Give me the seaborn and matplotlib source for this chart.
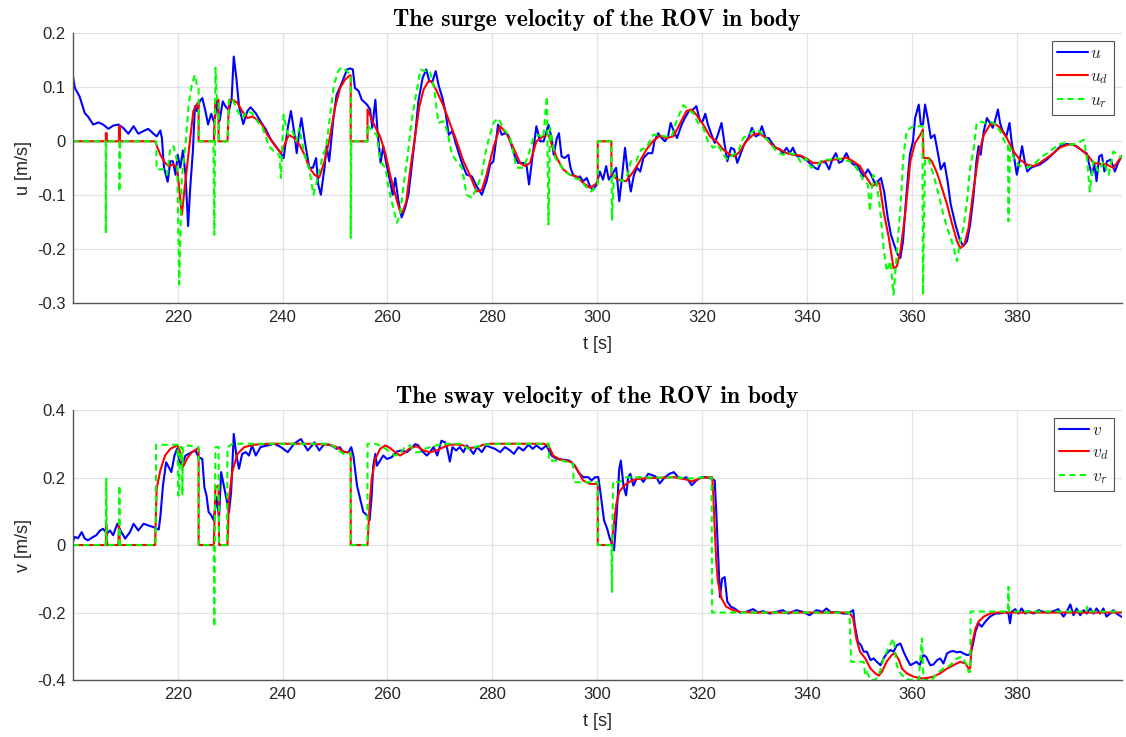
import matplotlib
matplotlib.use("Agg")
import matplotlib.pyplot as plt
import seaborn as sns

# ---------------- surge velocity (top) ----------------
t_u = [200.0, 200.4, 201.3, 202.3, 202.9, 203.9, 204.9, 205.8, 206.8, 207.7, 208.7, 209.6, 210.6, 211.6, 212.5,
       213.5, 214.4, 215.4, 216.0, 216.7, 217.0, 217.4, 218.1, 218.6, 219.1, 219.6, 220.0, 220.5, 221.0, 221.5,
       222.0, 222.4, 222.9, 223.3, 223.7, 224.2, 224.7, 225.3, 225.8, 226.4, 227.0, 227.5, 228.0, 228.6, 229.1,
       229.8, 230.3, 230.7, 231.2, 231.7, 232.5, 233.3, 233.9, 234.9, 235.8, 236.8, 237.8, 238.7, 239.7, 240.2,
       241.0, 241.6, 242.2, 242.7, 243.2, 243.6, 244.3, 245.1, 245.8, 246.4, 246.8, 247.3, 248.0, 248.4, 248.9,
       249.7, 250.3, 251.3, 252.3, 252.9, 253.4, 253.8, 254.5, 255.1, 256.1, 256.7, 257.1, 257.7, 258.1, 258.7,
       259.2, 259.7, 260.5, 261.0, 261.5, 262.1, 262.7, 263.4, 264.0, 264.6, 265.3, 265.9, 266.7, 267.4, 268.0,
       268.6, 269.2, 269.8, 270.5, 271.1, 271.7, 272.4, 273.0, 273.7, 274.3, 275.1, 276.1, 277.0, 278.0, 278.9,
       279.6, 280.2, 281.1, 281.8, 282.4, 283.0, 283.7, 284.3, 284.9, 285.9, 286.5, 287.0, 287.7, 288.4, 289.1,
       289.8, 290.7, 291.3, 291.7, 292.3, 292.7, 293.2, 293.8, 294.5, 294.9, 295.4, 296.1, 296.7, 297.3, 298.0,
       298.6, 299.2, 299.9, 300.5, 301.1, 301.7, 302.2, 302.8, 303.6, 304.2, 304.7, 305.3, 305.8, 306.4, 307.0,
       307.6, 308.2, 308.8, 309.7, 310.5, 310.9, 311.6, 312.3, 312.9, 313.5, 314.0, 314.6, 315.2, 316.1, 316.7,
       317.5, 318.3, 318.9, 319.6, 320.1, 320.6, 321.1, 321.8, 322.4, 323.0, 323.7, 324.2, 324.8, 325.5, 326.1,
       326.7, 327.4, 328.0, 328.8, 329.5, 330.2, 330.8, 331.4, 332.1, 332.7, 333.3, 334.0, 334.8, 335.4, 336.1,
       336.7, 337.3, 338.0, 338.9, 339.8, 340.8, 341.5, 342.1, 342.7, 343.6, 344.2, 344.8, 345.5, 346.1, 346.7,
       347.5, 348.1, 348.8, 349.5, 350.2, 350.8, 351.6, 352.2, 352.9, 353.5, 354.1, 354.7, 355.4, 356.0, 356.6,
       357.3, 357.8, 358.3, 358.9, 359.6, 360.2, 360.6, 361.3, 361.7, 362.1, 362.5, 363.0, 363.6, 364.3, 364.9,
       365.5, 366.2, 366.8, 367.4, 368.3, 369.1, 369.8, 370.5, 371.1, 371.7, 372.3, 372.7, 373.1, 373.7, 374.3,
       374.9, 375.4, 375.9, 376.4, 376.8, 377.3, 378.0, 378.6, 379.0, 379.5, 380.0, 380.5, 381.0, 381.5, 382.0,
       382.7, 383.5, 384.4, 385.7, 387.0, 388.3, 389.5, 390.8, 391.7, 392.7, 393.3, 393.8, 394.3, 394.8, 395.2,
       395.7, 396.2, 396.7, 397.2, 397.9, 398.7, 399.3, 400.0]
u = [0.123, 0.099, 0.083, 0.052, 0.046, 0.031, 0.035, 0.031, 0.023, 0.029, 0.031, 0.025, 0.014, 0.028, 0.014,
     0.019, 0.023, 0.014, 0.009, 0.020, 0.006, -0.049, -0.075, -0.037, -0.037, -0.062, -0.025, -0.049, -0.017, -0.062,
     -0.157, -0.086, -0.019, 0.065, 0.056, 0.074, 0.080, 0.056, 0.031, 0.051, 0.034, 0.074, 0.038, 0.074, 0.065,
     0.057, 0.080, 0.157, 0.117, 0.065, 0.032, 0.056, 0.063, 0.052, 0.037, 0.022, 0.003, -0.009, -0.022, -0.031,
     0.025, 0.056, 0.019, -0.022, 0.019, 0.043, -0.003, -0.049, -0.049, -0.031, -0.080, -0.099, -0.049, -0.009, -0.037,
     0.043, 0.086, 0.108, 0.133, 0.135, 0.133, 0.099, 0.093, 0.077, 0.068, 0.059, 0.025, 0.077, 0.019, -0.040,
     -0.009, -0.037, -0.074, -0.099, -0.068, -0.111, -0.141, -0.123, -0.099, -0.049, 0.012, 0.074, 0.117, 0.133, 0.111,
     0.111, 0.130, 0.102, 0.080, 0.052, 0.012, 0.019, -0.003, -0.025, -0.043, -0.062, -0.065, -0.083, -0.099, -0.074,
     -0.043, -0.037, 0.031, 0.012, 0.015, 0.012, -0.009, -0.028, -0.040, -0.040, -0.043, -0.080, -0.025, 0.028, 0.000,
     0.000, 0.031, 0.006, -0.025, 0.006, 0.015, -0.028, -0.031, -0.025, -0.049, -0.062, -0.068, -0.065, -0.074, -0.068,
     -0.083, -0.090, -0.080, -0.056, -0.071, -0.046, -0.071, -0.062, -0.049, -0.111, -0.068, -0.012, -0.056, -0.093, -0.062,
     -0.049, -0.056, -0.031, -0.022, -0.022, 0.000, 0.015, 0.006, 0.000, 0.009, 0.034, 0.019, 0.006, 0.031, 0.043,
     0.056, 0.059, 0.065, 0.037, 0.037, 0.051, 0.031, 0.012, -0.003, 0.012, 0.034, 0.000, -0.037, -0.012, -0.015,
     -0.040, -0.022, -0.006, 0.006, 0.025, 0.009, 0.012, 0.028, 0.006, 0.006, -0.003, -0.012, -0.015, -0.022, -0.012,
     -0.022, -0.012, -0.027, -0.028, -0.034, -0.043, -0.049, -0.052, -0.037, -0.040, -0.052, -0.034, -0.022, -0.040, -0.037,
     -0.022, -0.034, -0.043, -0.043, -0.056, -0.065, -0.052, -0.062, -0.077, -0.074, -0.068, -0.093, -0.142, -0.173, -0.191,
     -0.210, -0.216, -0.185, -0.105, -0.025, 0.000, 0.043, 0.068, 0.031, 0.031, 0.068, 0.043, 0.006, 0.012, -0.019,
     -0.052, -0.040, -0.074, -0.117, -0.154, -0.182, -0.194, -0.185, -0.154, -0.105, -0.037, -0.009, -0.025, 0.019, 0.043,
     0.034, 0.025, 0.040, 0.059, 0.034, 0.019, 0.009, 0.034, 0.000, -0.031, -0.062, -0.037, -0.009, -0.037, -0.056,
     -0.049, -0.046, -0.043, -0.034, -0.022, -0.009, -0.005, -0.006, -0.012, -0.019, -0.022, -0.043, -0.062, -0.043, -0.074,
     -0.028, -0.025, -0.056, -0.037, -0.034, -0.056, -0.040, -0.028]

t_ud = [200.0, 206.3, 206.3, 206.5, 206.5, 208.8, 208.8, 209.0, 209.0, 215.7, 216.7, 217.6, 218.3, 219.2, 219.9,
        220.8, 221.2, 221.9, 222.4, 223.0, 223.8, 224.0, 224.0, 226.9, 227.2, 227.8, 227.8, 229.5, 229.8, 230.5,
        231.4, 232.3, 233.3, 234.2, 235.2, 236.1, 237.1, 238.4, 239.7, 240.4, 241.2, 242.2, 243.2, 244.2, 245.1,
        246.1, 247.0, 248.0, 249.0, 250.0, 251.0, 251.9, 252.8, 253.0, 253.0, 256.2, 256.2, 257.3, 258.6, 259.6,
        260.5, 261.5, 262.4, 262.9, 263.6, 264.3, 265.3, 266.1, 266.9, 267.8, 268.4, 269.4, 270.7, 271.9, 273.2,
        274.5, 275.7, 277.0, 278.0, 278.9, 280.2, 281.5, 282.7, 284.0, 285.3, 286.2, 287.2, 288.4, 289.7, 290.7,
        291.3, 292.3, 293.5, 294.8, 296.1, 297.3, 298.6, 299.6, 300.1, 300.1, 302.7, 302.7, 303.9, 305.5, 306.9,
        308.1, 309.4, 310.6, 311.9, 313.2, 314.5, 315.7, 317.0, 318.0, 318.9, 320.2, 321.5, 322.7, 324.0, 325.3,
        326.2, 327.2, 328.4, 329.7, 330.9, 332.2, 333.5, 334.8, 336.1, 337.3, 338.6, 339.8, 341.1, 342.4, 343.7,
        345.0, 346.3, 347.5, 348.8, 350.1, 351.4, 352.4, 353.8, 354.6, 355.6, 356.5, 357.1, 357.8, 358.7, 359.7,
        360.6, 361.6, 362.1, 362.2, 363.2, 363.8, 364.8, 365.7, 366.7, 367.6, 368.6, 369.2, 370.0, 370.8, 371.7,
        372.7, 373.7, 374.9, 375.9, 376.8, 378.1, 379.4, 380.6, 381.9, 383.2, 384.4, 385.7, 387.0, 388.3, 390.2,
        391.4, 392.7, 393.7, 394.6, 395.9, 397.1, 398.4, 400.0]
u_d = [0.0, 0.0, 0.015, 0.015, 0.0, 0.0, 0.028, 0.028, 0.0, 0.0, -0.025, -0.040, -0.046, -0.043, -0.049,
       -0.136, -0.099, -0.037, 0.006, 0.056, 0.071, 0.071, 0.0, 0.0, 0.077, 0.077, 0.0, 0.0, 0.074, 0.077,
       0.071, 0.056, 0.043, 0.046, 0.040, 0.031, 0.012, -0.006, -0.022, -0.006, 0.012, 0.006, -0.006, -0.025, -0.049,
       -0.062, -0.067, -0.037, 0.006, 0.062, 0.099, 0.114, 0.122, 0.122, 0.0, 0.0, 0.059, 0.034, 0.009, -0.022,
       -0.062, -0.099, -0.130, -0.131, -0.111, -0.056, 0.012, 0.065, 0.096, 0.111, 0.111, 0.093, 0.065, 0.034, 0.000,
       -0.037, -0.062, -0.093, -0.090, -0.062, -0.012, 0.028, 0.015, -0.012, -0.040, -0.046, -0.040, 0.000, 0.009, 0.012,
       -0.006, -0.031, -0.052, -0.062, -0.065, -0.077, -0.086, -0.080, -0.075, 0.0, 0.0, -0.062, -0.071, -0.074, -0.056,
       -0.037, -0.015, 0.000, 0.010, 0.006, 0.009, 0.031, 0.056, 0.059, 0.049, 0.031, 0.009, 0.000, -0.015, -0.025,
       -0.028, -0.019, 0.000, 0.012, 0.015, 0.006, -0.009, -0.015, -0.022, -0.025, -0.026, -0.031, -0.040, -0.040, -0.036,
       -0.034, -0.033, -0.030, -0.037, -0.046, -0.068, -0.083, -0.077, -0.130, -0.179, -0.235, -0.232, -0.204, -0.136, -0.037,
       -0.003, 0.012, 0.022, -0.031, -0.031, -0.037, -0.059, -0.086, -0.117, -0.151, -0.185, -0.198, -0.191, -0.160, -0.093,
       -0.025, 0.012, 0.031, 0.032, 0.025, 0.006, -0.019, -0.034, -0.043, -0.046, -0.040, -0.031, -0.022, -0.011, -0.005,
       -0.009, -0.019, -0.028, -0.040, -0.042, -0.043, -0.049, -0.028]

t_ur = [200.0, 206.3, 206.3, 206.4, 208.9, 208.9, 209.0, 215.9, 216.0, 217.3, 218.0, 218.6, 219.2, 219.9, 220.3,
        220.8, 221.5, 222.1, 222.7, 223.3, 223.7, 224.0, 224.0, 226.8, 227.0, 227.2, 227.5, 227.8, 227.9, 229.5,
        229.8, 230.4, 231.4, 232.3, 233.3, 234.2, 235.2, 236.2, 237.4, 238.4, 239.4, 239.7, 240.2, 241.0, 241.9,
        242.6, 243.2, 244.2, 245.1, 245.9, 246.7, 247.7, 248.3, 249.0, 249.8, 250.6, 251.3, 252.3, 252.8, 253.0,
        253.0, 253.1, 256.2, 256.2, 257.0, 258.0, 258.6, 259.6, 260.2, 261.1, 261.8, 262.4, 263.0, 263.8, 264.4,
        265.0, 265.7, 266.3, 267.2, 268.1, 268.9, 269.7, 270.7, 271.4, 272.3, 273.2, 274.2, 275.1, 276.1, 277.0,
        278.0, 278.6, 279.2, 280.2, 281.1, 282.1, 283.4, 284.6, 285.9, 286.9, 287.8, 288.8, 289.7, 290.4, 290.7,
        291.0, 292.0, 292.9, 293.8, 294.8, 295.7, 296.7, 298.0, 298.9, 299.9, 300.1, 300.1, 302.7, 302.8, 303.2,
        304.8, 305.8, 306.4, 307.4, 308.4, 309.4, 310.0, 310.7, 311.6, 312.9, 314.2, 315.1, 316.4, 317.3, 318.3,
        319.2, 320.2, 321.1, 322.1, 323.0, 324.0, 324.9, 325.9, 326.9, 327.8, 328.8, 329.7, 330.6, 331.9, 332.9,
        334.2, 335.4, 336.7, 338.0, 338.9, 339.8, 340.8, 342.1, 343.0, 344.3, 345.6, 346.9, 348.1, 349.4, 350.7,
        351.6, 352.0, 352.6, 353.2, 353.9, 354.6, 355.2, 355.9, 356.5, 357.1, 357.8, 358.4, 359.0, 359.7, 360.6,
        361.4, 362.0, 362.1, 362.5, 363.2, 364.1, 365.1, 366.0, 366.7, 367.6, 368.6, 369.2, 369.8, 370.5, 371.1,
        371.7, 372.3, 373.0, 373.9, 374.9, 375.9, 376.8, 377.8, 378.3, 378.4, 378.7, 379.7, 380.6, 381.9, 383.2,
        384.8, 386.3, 387.9, 389.2, 390.5, 391.7, 392.8, 393.4, 393.9, 394.6, 395.6, 396.5, 397.5, 398.4, 399.4,
        400.0]
u_r = [0.0, 0.0, -0.170, 0.0, 0.0, -0.093, 0.0, 0.0, -0.052, -0.052, -0.062, -0.012, -0.009, -0.037, -0.265,
       -0.068, -0.006, 0.068, 0.105, 0.123, 0.102, 0.100, 0.0, 0.0, -0.173, 0.136, 0.074, 0.074, 0.0, 0.0,
       0.077, 0.080, 0.056, 0.043, 0.056, 0.052, 0.037, 0.025, -0.009, -0.019, -0.025, -0.068, 0.049, 0.012, 0.019,
       0.000, 0.025, -0.025, -0.052, -0.099, -0.068, -0.025, -0.012, 0.043, 0.105, 0.130, 0.137, 0.130, 0.124, 0.124,
       -0.179, 0.0, 0.0, 0.031, 0.019, 0.012, -0.037, -0.049, -0.086, -0.123, -0.151, -0.136, -0.086, -0.031, 0.022,
       0.062, 0.099, 0.133, 0.130, 0.130, 0.099, 0.034, 0.037, 0.019, -0.025, -0.037, -0.049, -0.099, -0.105, -0.086,
       -0.062, -0.025, 0.000, 0.034, 0.043, 0.025, 0.006, -0.049, -0.049, -0.025, 0.006, 0.012, 0.006, 0.083, -0.154,
       0.025, -0.031, -0.043, -0.056, -0.062, -0.068, -0.071, -0.086, -0.093, -0.080, -0.080, 0.0, 0.0, -0.145, -0.062,
       -0.074, -0.062, -0.037, -0.037, -0.015, -0.012, 0.000, 0.012, 0.012, 0.009, 0.009, 0.037, 0.067, 0.059, 0.052,
       0.034, 0.025, 0.000, -0.012, -0.006, -0.025, -0.034, -0.025, -0.019, 0.006, 0.012, 0.019, 0.022, 0.009, -0.003,
       -0.019, -0.025, -0.022, -0.025, -0.040, -0.031, -0.049, -0.043, -0.034, -0.034, -0.031, -0.034, -0.037, -0.049, -0.071,
       -0.080, -0.130, -0.062, -0.074, -0.123, -0.198, -0.241, -0.222, -0.284, -0.210, -0.123, -0.025, 0.019, 0.025, 0.028,
       0.028, 0.028, -0.284, -0.031, -0.034, -0.062, -0.099, -0.136, -0.160, -0.185, -0.222, -0.185, -0.160, -0.111, -0.049,
       -0.019, 0.031, 0.037, 0.034, 0.037, 0.031, 0.019, -0.003, -0.003, -0.148, -0.012, -0.037, -0.046, -0.049, -0.043,
       -0.028, -0.019, -0.006, -0.003, -0.006, -0.003, 0.003, -0.034, -0.093, -0.037, -0.056, -0.037, -0.062, -0.019, -0.025,
       -0.031]

# ---------------- sway velocity (bottom) ----------------
t_v = [200.0, 200.4, 201.0, 201.7, 202.3, 202.9, 203.9, 204.5, 205.2, 205.8, 206.5, 207.1, 207.7, 208.5, 209.1,
       210.0, 210.9, 211.6, 212.5, 213.5, 214.4, 215.4, 216.4, 216.7, 217.2, 217.8, 218.3, 218.8, 219.4, 219.9,
       220.3, 220.8, 221.5, 222.1, 222.7, 223.4, 224.0, 224.7, 225.1, 225.5, 225.9, 226.4, 226.9, 227.4, 227.9,
       228.3, 228.8, 229.3, 229.8, 230.2, 230.7, 231.2, 231.7, 232.3, 233.0, 233.6, 234.2, 234.9, 235.8, 237.1,
       238.4, 239.7, 241.0, 242.2, 243.5, 244.8, 246.1, 247.0, 248.0, 249.3, 250.3, 250.9, 251.6, 252.6, 253.1,
       253.5, 254.2, 254.8, 255.4, 256.1, 256.6, 257.0, 257.3, 257.7, 258.0, 258.6, 259.2, 259.9, 260.8, 261.8,
       262.7, 263.7, 264.6, 265.3, 265.9, 266.5, 267.5, 268.1, 268.8, 269.5, 270.3, 271.0, 271.4, 271.9, 272.4,
       273.1, 273.8, 274.5, 275.1, 275.7, 276.4, 277.1, 278.0, 278.8, 279.6, 280.5, 281.5, 282.4, 283.4, 284.1,
       285.0, 285.9, 286.9, 287.7, 288.4, 289.4, 290.3, 291.3, 292.3, 293.5, 294.7, 295.7, 296.4, 297.3, 298.3,
       298.9, 299.6, 300.2, 300.6, 301.3, 301.9, 302.4, 302.7, 303.2, 303.7, 304.2, 304.5, 305.0, 305.5, 305.9,
       306.3, 306.9, 307.5, 308.1, 308.8, 309.7, 310.7, 311.3, 311.9, 312.9, 313.8, 314.6, 315.4, 316.4, 317.0,
       318.0, 318.9, 319.9, 320.8, 321.7, 322.4, 322.7, 323.0, 323.4, 323.8, 324.3, 324.8, 325.5, 326.2, 327.2,
       328.4, 329.7, 330.7, 331.6, 332.9, 334.2, 335.4, 336.4, 338.0, 339.2, 340.5, 341.8, 343.0, 343.7, 344.6,
       345.6, 346.9, 347.8, 348.8, 349.1, 349.7, 350.3, 350.8, 351.4, 352.1, 352.7, 353.3, 354.0, 354.6, 355.2,
       355.9, 356.5, 357.1, 357.8, 358.4, 359.0, 359.7, 360.3, 360.9, 361.5, 361.9, 362.2, 362.7, 363.5, 364.1,
       364.8, 365.4, 366.0, 366.7, 367.3, 367.9, 368.6, 369.2, 369.8, 370.5, 371.1, 371.6, 372.1, 372.7, 373.3,
       374.0, 374.9, 375.9, 376.8, 377.8, 378.4, 378.7, 379.0, 379.7, 380.3, 380.9, 381.6, 382.2, 383.2, 384.1,
       385.1, 386.0, 387.0, 387.9, 388.9, 389.5, 390.2, 390.8, 391.4, 392.1, 392.7, 393.3, 394.0, 394.6, 395.2,
       395.9, 396.5, 397.1, 397.8, 398.4, 399.0, 400.0]
v = [0.009, 0.024, 0.020, 0.038, 0.019, 0.014, 0.024, 0.029, 0.043, 0.048, 0.034, 0.043, 0.029, 0.063, 0.043,
     0.019, 0.038, 0.063, 0.043, 0.063, 0.058, 0.053, 0.046, 0.083, 0.176, 0.245, 0.231, 0.216, 0.265, 0.285,
     0.250, 0.235, 0.265, 0.270, 0.275, 0.280, 0.260, 0.255, 0.171, 0.147, 0.098, 0.088, 0.073, 0.142, 0.083,
     0.216, 0.176, 0.137, 0.098, 0.157, 0.329, 0.265, 0.226, 0.270, 0.275, 0.265, 0.295, 0.265, 0.290, 0.295,
     0.300, 0.290, 0.275, 0.300, 0.314, 0.280, 0.304, 0.280, 0.300, 0.295, 0.285, 0.290, 0.275, 0.275, 0.290,
     0.265, 0.176, 0.137, 0.098, 0.088, 0.073, 0.147, 0.235, 0.270, 0.235, 0.250, 0.265, 0.255, 0.260, 0.277,
     0.280, 0.275, 0.287, 0.299, 0.295, 0.280, 0.265, 0.275, 0.290, 0.265, 0.309, 0.304, 0.285, 0.247, 0.290,
     0.280, 0.290, 0.275, 0.295, 0.285, 0.270, 0.290, 0.275, 0.295, 0.290, 0.285, 0.275, 0.290, 0.280, 0.270,
     0.290, 0.280, 0.297, 0.285, 0.295, 0.283, 0.295, 0.265, 0.255, 0.253, 0.250, 0.236, 0.216, 0.201, 0.201,
     0.191, 0.201, 0.201, 0.157, 0.073, 0.048, 0.019, 0.009, -0.016, 0.088, 0.226, 0.250, 0.176, 0.147, 0.201,
     0.211, 0.176, 0.197, 0.201, 0.187, 0.211, 0.206, 0.201, 0.182, 0.201, 0.211, 0.216, 0.201, 0.197, 0.201,
     0.177, 0.191, 0.201, 0.201, 0.197, 0.191, 0.097, -0.011, -0.154, -0.100, -0.095, -0.168, -0.183, -0.188, -0.200,
     -0.198, -0.190, -0.200, -0.196, -0.203, -0.198, -0.193, -0.203, -0.193, -0.198, -0.208, -0.193, -0.198, -0.188, -0.200,
     -0.198, -0.203, -0.203, -0.193, -0.237, -0.287, -0.297, -0.316, -0.316, -0.341, -0.336, -0.346, -0.356, -0.336, -0.321,
     -0.311, -0.316, -0.297, -0.292, -0.316, -0.336, -0.356, -0.351, -0.346, -0.356, -0.336, -0.326, -0.331, -0.356, -0.354,
     -0.341, -0.336, -0.351, -0.321, -0.316, -0.314, -0.318, -0.316, -0.321, -0.326, -0.324, -0.297, -0.257, -0.232, -0.242,
     -0.227, -0.212, -0.203, -0.203, -0.198, -0.203, -0.232, -0.198, -0.190, -0.203, -0.188, -0.203, -0.196, -0.203, -0.193,
     -0.198, -0.200, -0.196, -0.190, -0.212, -0.198, -0.176, -0.208, -0.188, -0.208, -0.193, -0.203, -0.188, -0.203, -0.188,
     -0.203, -0.188, -0.212, -0.203, -0.193, -0.203, -0.213]

t_vd = [200.0, 206.3, 206.4, 206.6, 208.7, 208.8, 209.0, 215.7, 216.0, 216.7, 217.6, 218.6, 219.9, 220.5, 221.0,
        221.8, 222.7, 223.7, 224.0, 224.0, 226.9, 227.2, 227.8, 227.9, 229.5, 229.8, 230.4, 231.4, 232.7, 234.6,
        237.1, 240.0, 245.0, 249.1, 250.3, 251.6, 252.9, 253.0, 253.0, 256.2, 256.6, 257.0, 257.7, 258.6, 259.6,
        260.5, 261.5, 262.4, 263.4, 264.3, 265.6, 266.9, 268.1, 269.4, 270.7, 271.9, 273.2, 274.5, 275.7, 277.0,
        278.3, 279.6, 282.1, 284.6, 287.2, 289.7, 290.7, 291.6, 292.9, 294.1, 295.1, 296.1, 297.3, 298.6, 299.9,
        300.1, 300.1, 302.7, 303.0, 303.6, 304.2, 305.2, 306.1, 307.4, 309.4, 311.9, 314.5, 317.0, 318.0, 319.6,
        321.5, 321.9, 322.1, 322.4, 322.7, 323.0, 323.7, 324.6, 325.9, 327.2, 330.0, 335.0, 340.0, 345.0, 348.1,
        348.8, 349.4, 350.1, 351.1, 352.1, 353.0, 353.7, 354.3, 355.2, 356.2, 356.8, 357.5, 358.1, 359.0, 360.3,
        361.6, 362.2, 363.2, 364.1, 365.4, 366.7, 367.9, 369.2, 370.2, 370.8, 371.1, 371.4, 372.1, 372.7, 373.7,
        374.9, 376.2, 380.0, 385.0, 390.0, 395.0, 400.0]
v_d = [0.0, 0.0, 0.063, 0.0, 0.0, 0.063, 0.0, 0.0, 0.167, 0.221, 0.265, 0.285, 0.295, 0.275, 0.231,
       0.256, 0.275, 0.285, 0.285, 0.0, 0.0, 0.171, 0.176, 0.0, 0.0, 0.137, 0.216, 0.270, 0.290, 0.297,
       0.300, 0.300, 0.300, 0.297, 0.290, 0.277, 0.273, 0.273, 0.0, 0.0, 0.117, 0.196, 0.255, 0.285, 0.295,
       0.287, 0.275, 0.265, 0.275, 0.287, 0.293, 0.280, 0.275, 0.280, 0.290, 0.297, 0.298, 0.295, 0.287, 0.290,
       0.297, 0.300, 0.300, 0.300, 0.300, 0.300, 0.295, 0.265, 0.253, 0.250, 0.245, 0.226, 0.191, 0.181, 0.181,
       0.181, 0.0, 0.0, 0.039, 0.118, 0.158, 0.177, 0.187, 0.195, 0.198, 0.199, 0.201, 0.194, 0.188, 0.198,
       0.201, 0.201, 0.157, 0.048, -0.050, -0.108, -0.158, -0.183, -0.193, -0.198, -0.200, -0.200, -0.200, -0.200, -0.200,
       -0.218, -0.277, -0.316, -0.336, -0.366, -0.380, -0.387, -0.375, -0.345, -0.325, -0.321, -0.340, -0.366, -0.380, -0.390,
       -0.395, -0.395, -0.393, -0.390, -0.380, -0.366, -0.356, -0.346, -0.351, -0.366, -0.366, -0.297, -0.248, -0.227, -0.212,
       -0.203, -0.200, -0.200, -0.200, -0.200, -0.200, -0.200]

t_vr = [200.0, 206.3, 206.4, 206.5, 208.8, 208.9, 209.0, 215.8, 215.9, 220.0, 220.1, 220.3, 220.4, 220.8, 220.9,
        221.0, 222.1, 223.7, 224.0, 224.0, 226.9, 227.0, 227.2, 227.8, 227.9, 229.4, 229.5, 230.5, 249.1, 250.3,
        251.6, 252.6, 253.0, 253.0, 256.2, 256.2, 257.7, 259.2, 260.5, 261.4, 262.4, 263.3, 264.3, 265.2, 266.2,
        267.1, 268.1, 269.7, 271.6, 274.2, 275.4, 276.6, 278.5, 281.7, 290.7, 290.8, 293.3, 294.5, 295.4, 295.5,
        300.1, 300.1, 302.7, 302.8, 303.0, 304.2, 305.5, 310.0, 315.0, 318.0, 320.0, 321.8, 321.9, 348.1, 348.4,
        350.8, 351.1, 351.4, 352.1, 353.0, 353.7, 354.6, 355.5, 356.5, 357.1, 357.8, 358.7, 359.7, 361.3, 361.9,
        362.2, 362.8, 363.8, 364.8, 366.0, 367.3, 368.6, 369.5, 370.5, 370.8, 371.1, 371.2, 378.3, 378.4, 378.5,
        393.3, 393.4, 393.7, 400.0]
v_r = [0.0, 0.0, 0.196, 0.0, 0.0, 0.176, 0.0, 0.0, 0.297, 0.297, 0.147, 0.147, 0.290, 0.290, 0.147,
       0.290, 0.295, 0.290, 0.290, 0.0, 0.0, -0.242, 0.290, 0.290, 0.0, 0.0, 0.290, 0.300, 0.300, 0.285,
       0.270, 0.272, 0.272, 0.0, 0.0, 0.300, 0.300, 0.290, 0.275, 0.265, 0.270, 0.290, 0.295, 0.275, 0.275,
       0.285, 0.290, 0.297, 0.300, 0.300, 0.285, 0.290, 0.297, 0.300, 0.300, 0.250, 0.250, 0.245, 0.240, 0.186,
       0.186, 0.0, 0.0, -0.139, 0.188, 0.186, 0.201, 0.200, 0.200, 0.197, 0.200, 0.200, -0.200, -0.200, -0.346,
       -0.346, -0.385, -0.376, -0.400, -0.400, -0.386, -0.336, -0.306, -0.277, -0.356, -0.380, -0.396, -0.400, -0.400, -0.277,
       -0.400, -0.400, -0.400, -0.380, -0.366, -0.356, -0.336, -0.331, -0.356, -0.376, -0.376, -0.197, -0.197, -0.124, -0.197,
       -0.197, -0.183, -0.197, -0.197]

# ---------------- axis ticks / labels ----------------
x_ticks = [220, 240, 260, 280, 300, 320, 340, 360, 380]
x_ticklabels = ["220", "240", "260", "280", "300", "320", "340", "360", "380"]
u_ticks = [0.2, 0.1, 0.0, -0.1, -0.2, -0.3]
u_ticklabels = ["0.2", "0.1", "0", "-0.1", "-0.2", "-0.3"]
v_ticks = [0.4, 0.2, 0.0, -0.2, -0.4]
v_ticklabels = ["0.4", "0.2", "0", "-0.2", "-0.4"]
titles = ["The surge velocity of the ROV in body", "The sway velocity of the ROV in body"]
ylabels = ["u [m/s]", "v [m/s]"]
xlabel = "t [s]"
legend_u = [r"$u$", r"$u_d$", r"$u_r$"]
legend_v = [r"$v$", r"$v_d$", r"$v_r$"]

sns.set_style("white")
plt.rcParams["font.family"] = ["Liberation Sans", "DejaVu Sans"]
plt.rcParams["mathtext.fontset"] = "cm"
plt.rcParams["axes.unicode_minus"] = False

fig = plt.figure(figsize=(11.26, 7.37), dpi=100)
ax1 = fig.add_axes([0.0646, 0.5885, 0.9316, 0.3663])
ax2 = fig.add_axes([0.0646, 0.0773, 0.9316, 0.3664])

BLUE, RED, GREEN = "#0000ff", "#ff0000", "#00ff00"
LW = 1.5


def draw(ax, t_a, a, t_b, b, t_c, c, labels):
    sns.lineplot(x=t_a, y=a, ax=ax, estimator=None, sort=False, color=BLUE, linewidth=LW, label=labels[0])
    sns.lineplot(x=t_b, y=b, ax=ax, estimator=None, sort=False, color=RED, linewidth=LW, label=labels[1])
    sns.lineplot(x=t_c, y=c, ax=ax, estimator=None, sort=False, color=GREEN, linewidth=LW,
                 linestyle=(0, (3, 2)), label=labels[2])


draw(ax1, t_u, u, t_ud, u_d, t_ur, u_r, legend_u)
draw(ax2, t_v, v, t_vd, v_d, t_vr, v_r, legend_v)

for ax, yt, ytl, ttl, yl, ylim in [(ax1, u_ticks, u_ticklabels, titles[0], ylabels[0], (-0.3, 0.2)),
                                   (ax2, v_ticks, v_ticklabels, titles[1], ylabels[1], (-0.4, 0.4))]:
    ax.set_xlim(200, 400)
    ax.set_ylim(*ylim)
    ax.set_xticks(x_ticks)
    ax.set_xticklabels(x_ticklabels)
    ax.set_yticks(yt)
    ax.set_yticklabels(ytl)
    ax.grid(True, color="#e2e2e2", linewidth=0.9)
    ax.set_axisbelow(True)
    for s in ["top", "right"]:
        ax.spines[s].set_visible(False)
    for s in ["left", "bottom"]:
        ax.spines[s].set_color("#555555")
        ax.spines[s].set_linewidth(1.0)
    ax.tick_params(axis="both", direction="in", length=7.5, width=0.9, color="#555555",
                   labelsize=12, labelcolor="#262626", pad=5)
    ax.set_xlabel(xlabel, fontsize=13, color="#262626", labelpad=8)
    ax.set_ylabel(yl, fontsize=13, color="#262626", labelpad=4)
    ax.set_title(ttl, fontfamily="cmb10", fontsize=17, pad=5, color="black")
    leg = ax.legend(loc="upper right", fontsize=12.5, frameon=True, fancybox=False, shadow=False,
                    handlelength=1.75, handletextpad=0.15, borderpad=0.3, labelspacing=0.4,
                    borderaxespad=0.45)
    leg.get_frame().set_edgecolor("#262626")
    leg.get_frame().set_linewidth(0.8)

fig.savefig("out.png", dpi=100)
